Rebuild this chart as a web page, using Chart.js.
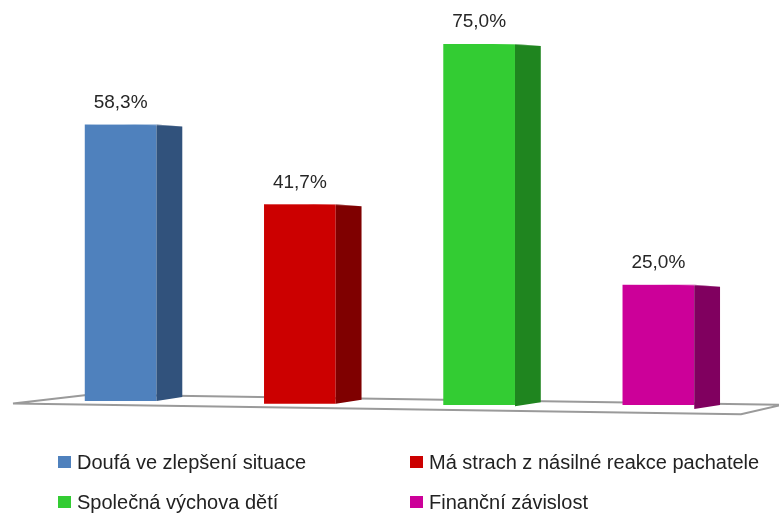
<!DOCTYPE html>
<html>
<head>
<meta charset="utf-8">
<script src="https://cdn.jsdelivr.net/npm/chart.js@4.4.1/dist/chart.umd.min.js"></script>
<style>
  html, body { margin: 0; padding: 0; background: #fff; }
  #wrap { position: relative; width: 779px; height: 513px; overflow: hidden; }
  #c { position: absolute; left: 0; top: 0; }
  .lg { position: absolute; display: flex; align-items: center; font-family: "Liberation Sans", Arial, sans-serif; font-size: 20px; color: #222; white-space: nowrap; }
  .lg i { display: inline-block; width: 13px; height: 12px; margin-right: 6px; }
</style>
</head>
<body>
<div id="wrap">
  <canvas id="c" width="779" height="513"></canvas>
</div>
<script>
// ---- data ----
const categories = ["Doufá ve zlepšení situace", "Má strach z násilné reakce pachatele", "Společná výchova dětí", "Finanční závislost"];
const values = [58.3, 41.7, 75.0, 25.0];
const frontColors = ["#4F81BD", "#CC0000", "#33CC33", "#CC0099"];
const sideColors = ["#31527C", "#7F0000", "#1F851F", "#80005F"];

const SHEAR = 0.0148;

function fmt(v) { return v.toFixed(1).replace('.', ',') + '%'; }

const bars3d = {
  id: 'bars3d',
  beforeDatasetsDraw(chart) {
    const ctx = chart.ctx, a = chart.chartArea;
    const xc = (a.left + a.right) / 2;
    const zero = chart.scales.y.getPixelForValue(0);
    // perspective: bar bottoms follow the tilted floor
    chart.getDatasetMeta(0).data.forEach(bar => {
      bar.base = zero + SHEAR * (bar.x - xc);
    });
    // floor
    ctx.save();
    ctx.transform(1, SHEAR, 0, 1, 0, -SHEAR * xc);
    ctx.beginPath();
    ctx.moveTo(a.left - 18, zero + 4);
    ctx.lineTo(a.left + 60, zero - 6);
    ctx.lineTo(a.right + 34, zero - 6);
    ctx.lineTo(a.right - 7, zero + 4);
    ctx.closePath();
    ctx.fillStyle = '#ffffff';
    ctx.fill();
    ctx.lineWidth = 2;
    ctx.strokeStyle = '#9a9a9a';
    ctx.stroke();
    ctx.restore();
  },
  afterDatasetsDraw(chart) {
    const ctx = chart.ctx;
    const meta = chart.getDatasetMeta(0);
    ctx.save();
    meta.data.forEach((bar, i) => {
      const p = bar.getProps(['x', 'y', 'base', 'width'], true);
      const x0 = p.x - p.width / 2;
      const x1 = p.x + p.width / 2;
      const d = p.width * 0.36;
      ctx.beginPath();
      ctx.moveTo(x1, p.y);
      ctx.lineTo(x1 + d, p.y + 2);
      ctx.lineTo(x1 + d, p.base - 4);
      ctx.lineTo(x1, p.base);
      ctx.closePath();
      ctx.fillStyle = sideColors[i];
      ctx.fill();
      // thin top face
      ctx.beginPath();
      ctx.moveTo(x0, p.y);
      ctx.lineTo(x1, p.y);
      ctx.lineTo(x1 + d, p.y + 2);
      ctx.lineTo(x0 + d, p.y - 1);
      ctx.closePath();
      ctx.fillStyle = 'rgba(255,255,255,0.35)';
      ctx.fill();
    });
    // value labels
    ctx.font = '19px "Liberation Sans", Arial, sans-serif';
    ctx.fillStyle = '#262626';
    ctx.textAlign = 'center';
    ctx.textBaseline = 'middle';
    meta.data.forEach((bar, i) => {
      const p = bar.getProps(['x', 'y'], true);
      ctx.fillText(fmt(values[i]), p.x, p.y - 22);
    });
    ctx.restore();
  }
};

new Chart(document.getElementById('c'), {
  type: 'bar',
  data: {
    labels: categories,
    datasets: [{
      data: values,
      backgroundColor: frontColors,
      borderWidth: 0,
      categoryPercentage: 1.0,
      barPercentage: 0.40
    }]
  },
  options: {
    responsive: false,
    animation: false,
    layout: { padding: { left: 31, right: 31, top: 20, bottom: 108 } },
    plugins: { legend: { display: false }, tooltip: { enabled: false } },
    scales: {
      x: { display: false },
      y: { display: false, min: 0, max: 80 }
    }
  },
  plugins: [bars3d]
});

// HTML legend from the data arrays
const wrap = document.getElementById('wrap');
const colX = [58, 410], rowY = [462, 502];
categories.forEach((name, i) => {
  const el = document.createElement('div');
  el.className = 'lg';
  el.style.left = colX[i % 2] + 'px';
  el.style.top = (rowY[Math.floor(i / 2)] - 12) + 'px';
  el.style.height = '24px';
  el.innerHTML = '<i style="background:' + frontColors[i] + '"></i><span></span>';
  el.querySelector('span').textContent = name;
  wrap.appendChild(el);
});
</script>
</body>
</html>
